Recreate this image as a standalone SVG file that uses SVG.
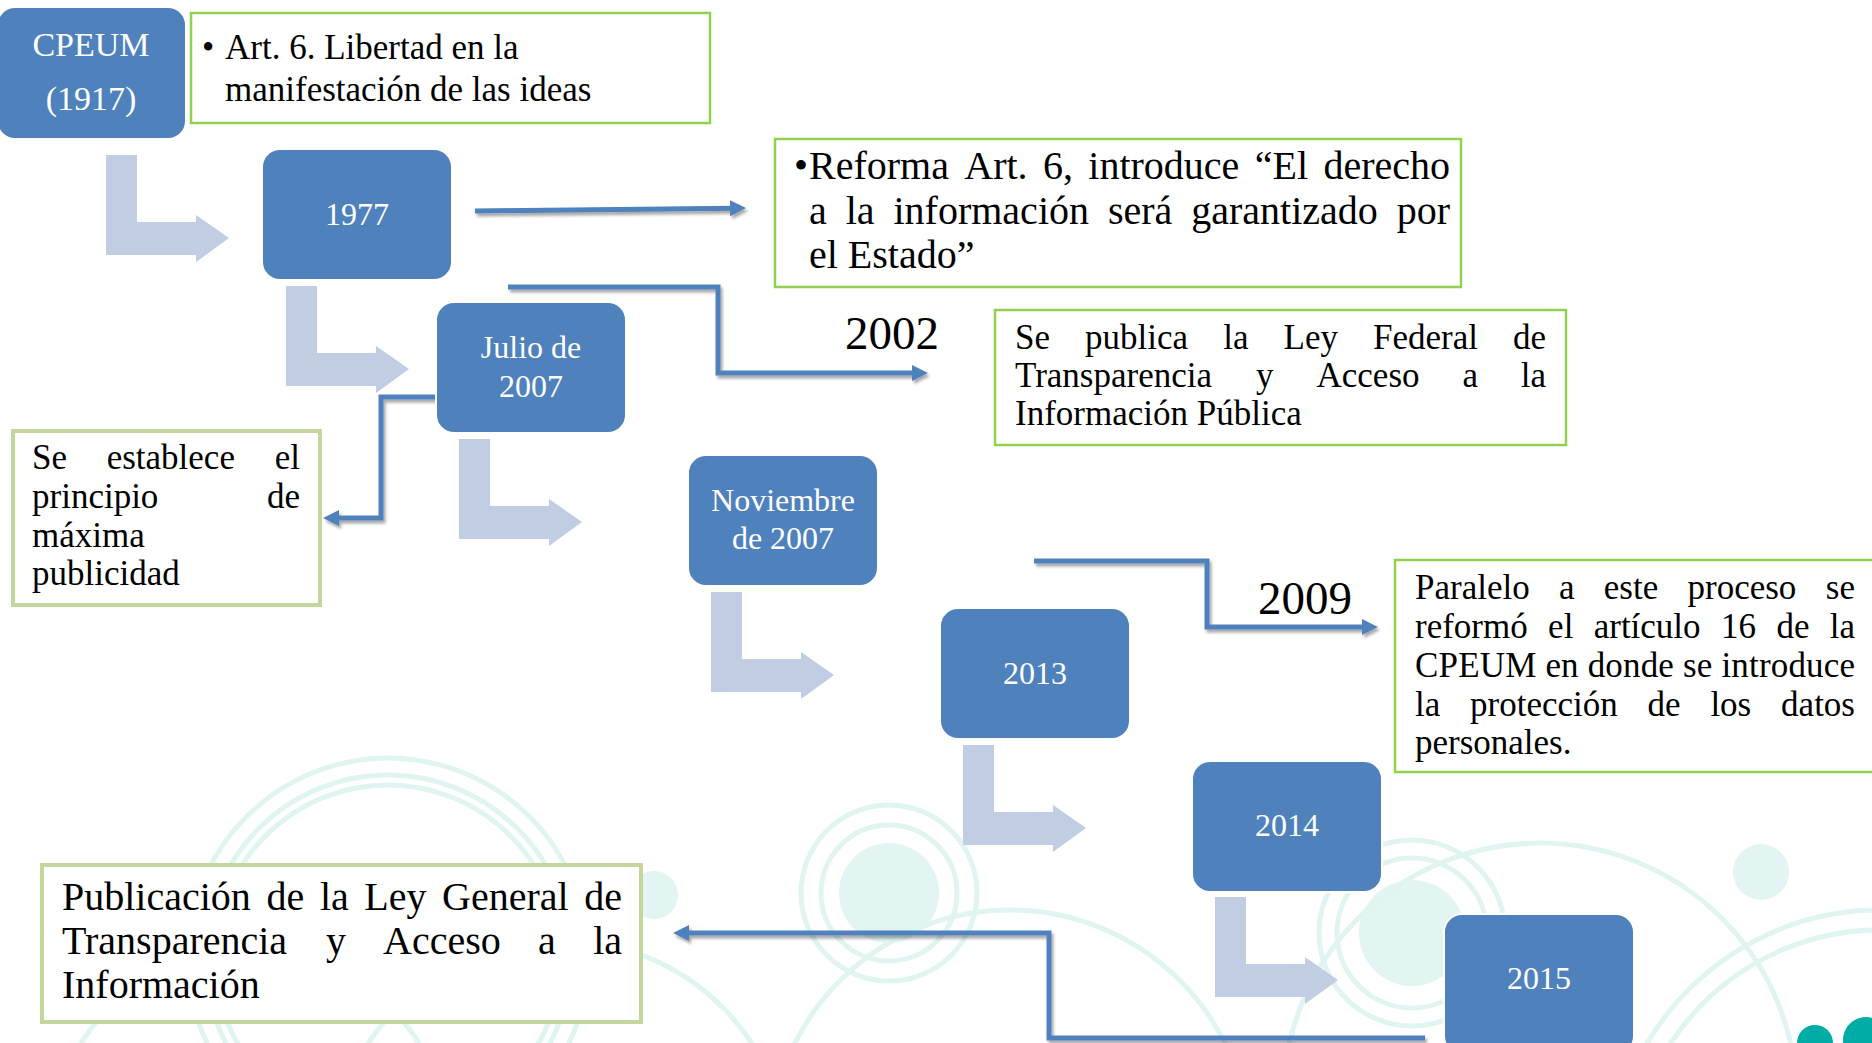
<svg xmlns="http://www.w3.org/2000/svg" width="1872" height="1043" viewBox="0 0 1872 1043">
<defs>
<style>
.node rect{fill:#4F81BD;stroke:#FFFFFF;stroke-width:2}
.nt{font-family:"Liberation Serif","Times New Roman",serif;font-size:32px;fill:#FFFFFF;text-anchor:middle}
.bx{fill:#FFFFFF;stroke:#92D050;stroke-width:2.5}
.bxp{fill:#FFFFFF;stroke:#C3D69B;stroke-width:4}
.t{font-family:"Liberation Serif","Times New Roman",serif;font-size:35px;fill:#000000}
.tl{font-family:"Liberation Serif","Times New Roman",serif;font-size:40px;fill:#000000}
.yr{font-family:"Liberation Serif","Times New Roman",serif;font-size:47px;fill:#000000}
.e{text-anchor:end}
.con{fill:none;stroke:#4F81BD;stroke-width:5;marker-end:url(#ah)}
.ga{fill:#C1CDE2}
.ring{fill:none;stroke:#E0F4F2;stroke-width:5}
.dot{fill:#E2F5F3}
</style>
<marker id="ah" markerUnits="userSpaceOnUse" markerWidth="16" markerHeight="16" refX="6" refY="8" orient="auto">
<path d="M0,0 L16,8 L0,16 z" fill="#4F81BD"/>
</marker>
<filter id="sh" x="-5%" y="-20%" width="115%" height="160%">
<feDropShadow dx="2" dy="3" stdDeviation="1.5" flood-color="#000000" flood-opacity="0.35"/>
</filter>
<path id="bent" d="M0,0 H31 V67 H90 V60 L123,83 L90,107 V100 H0 Z"/>
</defs>

<rect x="0" y="0" width="1872" height="1043" fill="#FFFFFF"/>

<g id="background">
<circle class="ring" cx="388" cy="958" r="200"/>
<circle class="ring" cx="388" cy="958" r="183"/>
<circle class="ring" cx="388" cy="958" r="173"/>
<circle class="ring" cx="250" cy="1150" r="200"/>
<circle class="ring" cx="560" cy="1170" r="230"/>
<circle class="dot" cx="654" cy="895" r="24"/>
<circle class="dot" cx="889" cy="893" r="50"/>
<circle class="ring" cx="889" cy="893" r="68"/>
<circle class="ring" cx="889" cy="893" r="88"/>
<circle class="ring" cx="1010" cy="1150" r="240"/>
<circle class="dot" cx="1412" cy="933" r="53"/>
<circle class="ring" cx="1412" cy="933" r="75"/>
<circle class="ring" cx="1412" cy="933" r="93"/>
<circle class="ring" cx="1540" cy="1100" r="257"/>
<circle class="dot" cx="1761" cy="872" r="28"/>
<circle class="ring" cx="1880" cy="1180" r="270"/>
<circle class="ring" cx="1880" cy="1180" r="250"/>
<circle fill="#00ADA6" cx="1815" cy="1043" r="18"/>
<circle fill="#00ADA6" cx="1866" cy="1040" r="23"/>
</g>

<g id="flow-arrows">
<use href="#bent" class="ga" x="106" y="155"/>
<use href="#bent" class="ga" x="286" y="286"/>
<use href="#bent" class="ga" x="459" y="439"/>
<use href="#bent" class="ga" x="711" y="592"/>
<use href="#bent" class="ga" x="963" y="745"/>
<use href="#bent" class="ga" x="1215" y="897"/>
</g>

<g id="connectors" filter="url(#sh)">
<path class="con" d="M475,211 L736,208.2"/>
<path class="con" d="M508,287 H718 V373 H918"/>
<path class="con" d="M440,397 H381 V518 H333"/>
<path class="con" d="M1034,561 H1207 V627 H1368"/>
<path class="con" d="M1425,1038 H1049 V933 H683"/>
</g>

<g id="node-cpeum" class="node">
<rect x="-3" y="7" width="189" height="132" rx="18"/>
<text class="nt" x="91" y="56" style="font-size:34px">CPEUM</text>
<text class="nt" x="91" y="110" style="font-size:34px">(1917)</text>
</g>

<g id="node-1977" class="node">
<rect x="262" y="149" width="190" height="131" rx="18"/>
<text class="nt" x="357" y="225">1977</text>
</g>

<g id="node-julio-2007" class="node">
<rect x="436" y="302" width="190" height="131" rx="18"/>
<text class="nt" x="531" y="358">Julio de</text>
<text class="nt" x="531" y="397">2007</text>
</g>

<g id="node-noviembre-2007" class="node">
<rect x="688" y="455" width="190" height="131" rx="18"/>
<text class="nt" x="783" y="511">Noviembre</text>
<text class="nt" x="783" y="549">de 2007</text>
</g>

<g id="node-2013" class="node">
<rect x="940" y="608" width="190" height="131" rx="18"/>
<text class="nt" x="1035" y="684">2013</text>
</g>

<g id="node-2014" class="node">
<rect x="1192" y="761" width="190" height="131" rx="18"/>
<text class="nt" x="1287" y="836">2014</text>
</g>

<g id="node-2015" class="node">
<rect x="1444" y="914" width="190" height="140" rx="18"/>
<text class="nt" x="1539" y="989">2015</text>
</g>

<g id="box-art6">
<rect class="bx" x="191" y="13" width="519" height="110"/>
<text class="t" x="202" y="59">•</text>
<text class="t" x="225" y="59">Art. 6. Libertad en la</text>
<text class="t" x="225" y="101">manifestación de las ideas</text>
</g>

<g id="box-reforma">
<rect class="bx" x="775" y="139" width="686" height="148"/>
<text class="tl" x="794" y="179">•</text>
<text class="tl" y="179"><tspan x="809">Reforma</tspan><tspan x="964.3">Art.</tspan><tspan x="1042.9">6,</tspan><tspan x="1088.3">introduce</tspan><tspan x="1254.7">“El</tspan></text>
<text class="tl e" x="1450" y="179">derecho</text>
<text class="tl" y="224"><tspan x="809">a</tspan><tspan x="845.7">la</tspan><tspan x="893.5">información</tspan><tspan x="1107.9">será</tspan><tspan x="1191.2">garantizado</tspan></text>
<text class="tl e" x="1450" y="224">por</text>
<text class="tl" x="809" y="268">el Estado”</text>
</g>

<g id="label-2002">
<text class="yr" x="845" y="349">2002</text>
</g>

<g id="box-ley-federal">
<rect class="bx" x="995" y="310" width="571" height="135"/>
<text class="t" y="349"><tspan x="1015">Se</tspan><tspan x="1085.1">publica</tspan><tspan x="1223.2">la</tspan><tspan x="1283.5">Ley</tspan><tspan x="1373">Federal</tspan></text>
<text class="t e" x="1546" y="349">de</text>
<text class="t" y="387"><tspan x="1015">Transparencia</tspan><tspan x="1256.1">y</tspan><tspan x="1316.5">Acceso</tspan><tspan x="1462.4">a</tspan></text>
<text class="t e" x="1546" y="387">la</text>
<text class="t" x="1015" y="425">Información Pública</text>
</g>

<g id="box-maxima-publicidad">
<rect class="bxp" x="13" y="431" width="307" height="174"/>
<text class="t" y="469"><tspan x="32">Se</tspan><tspan x="106.7">establece</tspan></text>
<text class="t e" x="300" y="469">el</text>
<text class="t" x="32" y="508">principio</text>
<text class="t e" x="300" y="508">de</text>
<text class="t" x="32" y="547">máxima</text>
<text class="t" x="32" y="585">publicidad</text>
</g>

<g id="label-2009">
<text class="yr" x="1258" y="614">2009</text>
</g>

<g id="box-articulo16">
<rect class="bx" x="1395" y="560" width="490" height="212"/>
<text class="t" y="599"><tspan x="1415">Paralelo</tspan><tspan x="1559">a</tspan><tspan x="1603.8">este</tspan><tspan x="1687.5">proceso</tspan></text>
<text class="t e" x="1855" y="599">se</text>
<text class="t" y="638"><tspan x="1415">reformó</tspan><tspan x="1548.1">el</tspan><tspan x="1593.7">artículo</tspan><tspan x="1721">16</tspan><tspan x="1776.4">de</tspan></text>
<text class="t e" x="1855" y="638">la</text>
<text class="t" x="1415" y="677" textLength="440" lengthAdjust="spacing">CPEUM en donde se introduce</text>
<text class="t" y="716"><tspan x="1415">la</tspan><tspan x="1470.1">protección</tspan><tspan x="1647.6">de</tspan><tspan x="1710.4">los</tspan></text>
<text class="t e" x="1855" y="716">datos</text>
<text class="t" x="1415" y="754">personales.</text>
</g>

<g id="box-ley-general">
<rect class="bxp" x="42" y="865" width="599" height="157"/>
<text class="tl" y="910"><tspan x="62">Publicación</tspan><tspan x="266.5">de</tspan><tspan x="319.9">la</tspan><tspan x="364.3">Ley</tspan><tspan x="442.1">General</tspan></text>
<text class="tl e" x="622" y="910">de</text>
<text class="tl" y="954"><tspan x="62">Transparencia</tspan><tspan x="325.9">y</tspan><tspan x="383.1">Acceso</tspan><tspan x="538.1">a</tspan></text>
<text class="tl e" x="622" y="954">la</text>
<text class="tl" x="62" y="998">Información</text>
</g>
</svg>
